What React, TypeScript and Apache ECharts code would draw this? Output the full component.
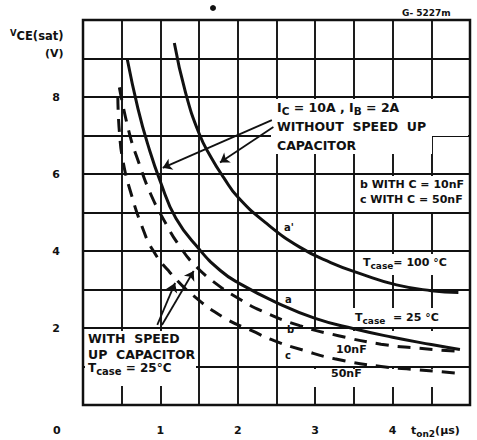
import React, { useEffect, useRef } from "react";
import * as echarts from "echarts";

// Turn-on time t_on2 (µs) against collector-emitter saturation voltage (V)
const curveA100X = [1.18, 1.32, 1.5, 1.65, 1.82, 2.0, 2.35, 2.8, 3.2, 3.6, 4.05, 4.5, 4.85];
const curveA100Y = [9.4, 8.15, 7.05, 6.45, 5.9, 5.4, 4.75, 4.1, 3.7, 3.4, 3.12, 2.97, 2.92];

const curveA25X = [0.57, 0.71, 0.84, 1.0, 1.2, 1.5, 1.77, 2.0, 2.5, 3.0, 3.5, 4.0, 4.5, 4.87];
const curveA25Y = [9.0, 7.7, 6.75, 5.8, 4.85, 4.05, 3.5, 3.18, 2.66, 2.25, 1.98, 1.76, 1.57, 1.44];

const curveB10nFX = [0.47, 0.6, 0.72, 0.87, 1.06, 1.24, 1.45, 1.74, 2.0, 2.3, 2.8, 3.3, 3.85, 4.3, 4.87];
const curveB10nFY = [8.25, 7.05, 6.3, 5.5, 4.75, 4.15, 3.62, 3.12, 2.78, 2.45, 2.06, 1.8, 1.58, 1.48, 1.39];

const curveC50nFX = [0.45, 0.47, 0.52, 0.62, 0.76, 0.9, 1.12, 1.45, 1.83, 2.18, 2.47, 2.85, 3.25, 3.85, 4.3, 4.87];
const curveC50nFY = [8.0, 7.1, 6.3, 5.5, 4.65, 4.03, 3.45, 2.8, 2.26, 1.93, 1.67, 1.42, 1.2, 1.0, 0.92, 0.82];

// Pointer arrows from the notes to the curves: [fromX, fromY, toX, toY]
const arrowNoSpeedUp = [
  [2.44, 7.4, 1.03, 6.16],
  [2.46, 7.22, 1.77, 6.3],
];
const arrowSpeedUp = [
  [0.96, 2.08, 1.19, 3.17],
  [1.02, 2.08, 1.43, 3.48],
];

const xTickLabels = [1, 2, 3, 4];
const yTickLabels = [2, 4, 6, 8];

const FONT = "DejaVu Sans";
const INK = "#111";

const zip = (xs: number[], ys: number[]) => xs.map((x, i) => [x, ys[i]]);

const txt = (x: number, y: number, text: string, size = 11) => ({
  type: "text",
  x,
  y,
  z: 10,
  style: {
    text,
    fill: INK,
    font: `bold ${size}px "${FONT}"`,
    textVerticalAlign: "middle",
    rich: {
      sub: { fontSize: size - 2, fontWeight: "bold", fontFamily: FONT, fill: INK, padding: [7, 0, 0, 0] },
      big: { fontSize: size, fontWeight: "bold", fontFamily: FONT, fill: INK },
      sup: { fontSize: size - 3, fontWeight: "bold", fontFamily: FONT, fill: INK, padding: [0, 0, 6, 0] },
    },
  },
});

const blank = (x: number, y: number, w: number, h: number) => ({
  type: "rect",
  z: 1,
  shape: { x, y, width: w, height: h },
  style: { fill: "#fff" },
});

export default function App() {
  const ref = useRef<HTMLDivElement>(null);

  useEffect(() => {
    if (!ref.current) return;
    const chart = echarts.init(ref.current, null, { renderer: "svg" });

    const curve = (name: string, xs: number[], ys: number[], dash: boolean) => ({
      name,
      type: "line",
      data: zip(xs, ys),
      showSymbol: false,
      smooth: 0.5,
      z: 3,
      lineStyle: { color: INK, width: 3, type: dash ? [13, 9] : "solid" },
    });

    const arrows = [...arrowNoSpeedUp, ...arrowSpeedUp].map((a) => ({
      coords: [
        [a[0], a[1]],
        [a[2], a[3]],
      ],
    }));

    chart.setOption({
      animation: false,
      backgroundColor: "#fff",
      grid: {
        left: 83,
        right: 7,
        top: 20,
        bottom: 35,
        show: true,
        borderColor: INK,
        borderWidth: 2.5,
        backgroundColor: "transparent",
      },
      xAxis: {
        type: "value",
        min: 0,
        max: 5,
        interval: 0.5,
        axisLine: { show: false },
        axisTick: { show: false },
        splitLine: { show: true, lineStyle: { color: INK, width: 1.9 } },
        axisLabel: {
          margin: 20,
          color: INK,
          fontSize: 11,
          fontWeight: "bold",
          fontFamily: FONT,
          formatter: (v: number) => (xTickLabels.includes(v) ? String(v) : ""),
        },
      },
      yAxis: {
        type: "value",
        min: 0,
        max: 10,
        interval: 1,
        axisLine: { show: false },
        axisTick: { show: false },
        splitLine: { show: true, lineStyle: { color: INK, width: 1.9 } },
        axisLabel: {
          margin: 23,
          color: INK,
          fontSize: 11,
          fontWeight: "bold",
          fontFamily: FONT,
          formatter: (v: number) => (yTickLabels.includes(v) ? String(v) : ""),
        },
      },
      series: [
        curve("a'", curveA100X, curveA100Y, false),
        curve("a", curveA25X, curveA25Y, false),
        curve("b", curveB10nFX, curveB10nFY, true),
        curve("c", curveC50nFX, curveC50nFY, true),
        {
          type: "lines",
          coordinateSystem: "cartesian2d",
          symbol: ["none", "arrow"],
          symbolSize: 9,
          z: 4,
          lineStyle: { color: INK, width: 1.8, opacity: 1, curveness: 0 },
          data: arrows,
        },
      ],
      graphic: [
        // white label panels laid over the grid
        blank(85, 331, 111, 55),
        blank(271, 99, 161, 55),
        blank(432, 99, 36, 37),
        blank(359, 176, 109, 36),
        blank(360, 254, 108, 21),
        blank(352, 308, 96, 19),
        blank(305, 331, 163, 35),
        blank(305, 369, 163, 18),
        // axis titles and origin
        txt(10, 36, "{sup|V}{big|CE(sat)}", 11.5),
        txt(45, 53, "(V)", 11),
        txt(53, 430, "0", 11),
        txt(411, 430, "t{sub|on2}(µs)", 11),
        txt(402, 13, "G- 5227m", 9),
        // notes
        txt(277, 107, "I{sub|C} = 10A , I{sub|B} = 2A", 12.5),
        txt(277, 126, "WITHOUT  SPEED  UP", 12.5),
        txt(277, 145, "CAPACITOR", 12.5),
        txt(360, 184, "b WITH C = 10nF", 11),
        txt(360, 199, "c WITH C = 50nF", 11),
        txt(88, 338, "WITH  SPEED", 12.5),
        txt(88, 354, "UP  CAPACITOR", 12.5),
        txt(88, 368, "T{sub|case} = 25°C", 12),
        txt(363, 262, "T{sub|case}= 100 °C", 11),
        txt(355, 317, "T{sub|case}  = 25 °C", 11),
        txt(336, 349, "10nF", 11),
        txt(331, 373, "50nF", 11),
        // curve tags
        txt(284, 227, "a'", 10),
        txt(285, 299, "a", 10),
        txt(287, 329, "b", 10),
        txt(285, 355, "c", 10),
        {
          type: "circle",
          z: 10,
          shape: { cx: 213, cy: 8, r: 3 },
          style: { fill: INK },
        },
      ],
    });

    return () => chart.dispose();
  }, []);

  return (
    <div
      ref={ref}
      style={{ position: "fixed", left: 0, top: 0, width: 477, height: 440, background: "#fff" }}
    />
  );
}
